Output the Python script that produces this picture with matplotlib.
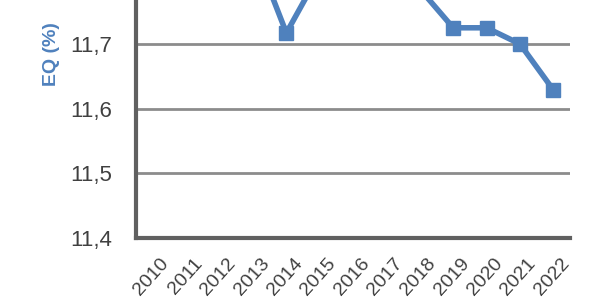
import matplotlib
matplotlib.use("Agg")
import matplotlib.pyplot as plt
from matplotlib.transforms import ScaledTranslation

plt.rcParams['font.family'] = ['Liberation Sans', 'DejaVu Sans']

# Data (values above the visible window are estimated from line slopes)
years = ['2010', '2011', '2012', '2013', '2014', '2015', '2016',
         '2017', '2018', '2019', '2020', '2021', '2022']
eq = [11.86, 11.86, 11.85, 11.85, 11.717, 11.81, 11.82,
      11.82, 11.785, 11.725, 11.725, 11.70, 11.629]
yticks = [11.4, 11.5, 11.6, 11.7]
ytick_labels = ['11,4', '11,5', '11,6', '11,7']

blue = '#4f81bd'
grey_text = '#404040'

fig = plt.figure(figsize=(6, 3), dpi=100)
ax = fig.add_axes([0.227, 0.207, 0.723, 0.793])

x = range(len(years))
ax.plot(x, eq, color=blue, lw=4, marker='s', ms=10, zorder=3)

ax.set_xlim(-0.5, len(years) - 0.5)
ax.set_ylim(11.4, 11.768)
ax.set_yticks(yticks)
ax.set_yticklabels(ytick_labels, fontsize=16, color=grey_text)
ax.set_xticks(list(x))
ax.set_xticklabels(years, rotation=48, ha='right', va='top',
                   rotation_mode='anchor', fontsize=14, color=grey_text)
ax.tick_params(axis='y', length=0, pad=17)
ax.tick_params(axis='x', length=0, pad=0)

# move year labels so their upper end sits just right of each category
offset = ScaledTranslation(7 / 100, -17 / 100, fig.dpi_scale_trans)
for lab in ax.get_xticklabels():
    lab.set_transform(lab.get_transform() + offset)

ax.grid(axis='y', color='#8c8c8c', lw=2)
ax.set_axisbelow(True)
for s in ['top', 'right']:
    ax.spines[s].set_visible(False)
for s in ['left', 'bottom']:
    ax.spines[s].set_color('#606060')
    ax.spines[s].set_linewidth(3)

fig.text(0.085, 0.82, 'EQ (%)', rotation=90, color=blue, fontsize=14,
         fontweight='bold', ha='center', va='center')

fig.savefig('out.png', dpi=100)
